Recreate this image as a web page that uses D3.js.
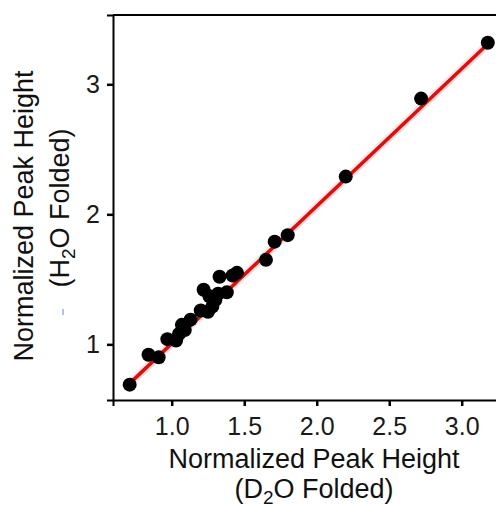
<!DOCTYPE html>
<html>
<head>
<meta charset="utf-8">
<script src="https://cdn.jsdelivr.net/npm/d3@7"></script>
<style>
  body { margin: 0; background: #fff; }
  svg text { font-family: "Liberation Sans", Arial, sans-serif; }
</style>
</head>
<body>
<div id="chart"></div>
<script>
// D2O folded (x) vs H2O folded (y), normalized peak heights
const d2oFolded = [0.71, 0.84, 0.91, 0.97, 1.03, 1.05, 1.07, 1.09, 1.13, 1.20, 1.25, 1.22, 1.26, 1.28, 1.30, 1.32, 1.33, 1.38, 1.42, 1.45, 1.65, 1.71, 1.80, 2.20, 2.72, 3.18];
const h2oFolded = [0.69, 0.92, 0.90, 1.04, 1.03, 1.08, 1.15, 1.11, 1.19, 1.26, 1.25, 1.42, 1.37, 1.29, 1.34, 1.39, 1.52, 1.40, 1.53, 1.55, 1.65, 1.79, 1.84, 2.29, 2.89, 3.32];
const xTicks = [1.0, 1.5, 2.0, 2.5, 3.0];
const yTicks = [1, 2, 3];
// fitted line end points
const fitX = [0.71, 3.18];
const fitY = [0.70, 3.31];

const data = d2oFolded.map((x, i) => ({x: x, y: h2oFolded[i]}));

const dimensions = {
  width: 496,
  height: 508,
  margin: {top: 15, right: -4, bottom: 108, left: 113},
}
dimensions.boundedWidth = dimensions.width - dimensions.margin.left - dimensions.margin.right
dimensions.boundedHeight = dimensions.height - dimensions.margin.top - dimensions.margin.bottom

const wrapper = d3.select('#chart')
  .append('svg')
  .attr('width', dimensions.width)
  .attr('height', dimensions.height)

const bounds = wrapper.append('g')
  .attr('transform', `translate(${dimensions.margin.left},${dimensions.margin.top})`)

const xScale = d3.scaleLinear()
  .domain([0.595, 3.264])
  .range([0, dimensions.boundedWidth])

const yScale = d3.scaleLinear()
  .domain([0.572, 3.533])
  .range([dimensions.boundedHeight, 0])

// confidence band (faint) + fitted line
const fit = fitX.map((x, i) => ({x: x, y: fitY[i]}))
const line = d3.line().x(d => xScale(d.x)).y(d => yScale(d.y))

bounds.append('path')
  .datum(fit)
  .attr('d', line)
  .attr('fill', 'none')
  .attr('stroke', '#ebebeb')
  .attr('stroke-width', 8)

bounds.append('path')
  .datum(fit)
  .attr('d', line)
  .attr('fill', 'none')
  .attr('stroke', '#ff0000')
  .attr('stroke-width', 3.5)

bounds.selectAll('circle')
  .data(data)
  .join('circle')
  .attr('cx', d => xScale(d.x))
  .attr('cy', d => yScale(d.y))
  .attr('r', 7)
  .attr('fill', '#000')

// axes
const xAxis = bounds.append('g')
  .attr('transform', `translate(0,${dimensions.boundedHeight})`)
  .call(d3.axisBottom(xScale).tickValues(xTicks).tickFormat(d3.format('.1f')).tickSize(6).tickPadding(11))

const yAxis = bounds.append('g')
  .call(d3.axisLeft(yScale).tickValues(yTicks).tickFormat(d3.format('d')).tickSize(6).tickPadding(7))

;[xAxis, yAxis].forEach(ax => {
  ax.select('.domain').attr('stroke', '#000').attr('stroke-width', 2)
  ax.selectAll('.tick line').attr('stroke', '#000').attr('stroke-width', 2.5)
  ax.selectAll('.tick text')
    .attr('fill', '#1a1a1a')
    .style('font-size', '25px')
    .style('font-family', '"Liberation Sans", Arial, sans-serif')
})

// top border of the panel
bounds.append('line')
  .attr('x1', 0).attr('x2', dimensions.boundedWidth)
  .attr('y1', 0).attr('y2', 0)
  .attr('stroke', '#000')
  .attr('stroke-width', 2)

// x title
const xTitle = wrapper.append('text')
  .attr('text-anchor', 'middle')
  .style('font-size', '27px')
  .attr('fill', '#111')

xTitle.append('tspan').attr('x', 314).attr('y', 468).text('Normalized Peak Height')
const xSub = xTitle.append('tspan').attr('x', 314).attr('y', 498)
xSub.append('tspan').text('(D')
xSub.append('tspan').attr('dy', 6).style('font-size', '19px').text('2')
xSub.append('tspan').attr('dy', -6).text('O Folded)')

// y title
const yTitle = wrapper.append('text')
  .attr('transform', 'rotate(-90)')
  .attr('text-anchor', 'middle')
  .style('font-size', '27px')
  .attr('fill', '#111')

yTitle.append('tspan').attr('x', -216).attr('y', 33).text('Normalized Peak Height')
const ySub = yTitle.append('tspan').attr('x', -208).attr('y', 69)
ySub.append('tspan').text('(H')
ySub.append('tspan').attr('dy', 6).style('font-size', '19px').text('2')
ySub.append('tspan').attr('dy', -6).text('O Folded)')

// small blue mark under the y title
wrapper.append('line')
  .attr('x1', 63).attr('x2', 63)
  .attr('y1', 309).attr('y2', 315)
  .attr('stroke', '#5b8fc9')
  .attr('stroke-width', 1)
</script>
</body>
</html>
